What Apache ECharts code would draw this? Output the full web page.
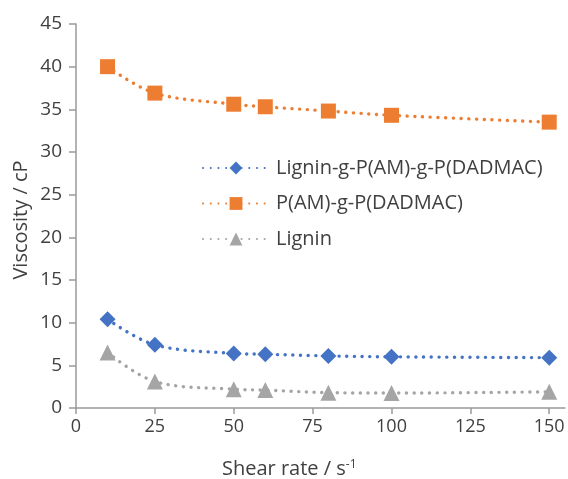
<!DOCTYPE html>
<html><head><meta charset="utf-8">
<script src="https://cdn.jsdelivr.net/npm/echarts@6/dist/echarts.min.js"></script>
<style>html,body{margin:0;padding:0;background:#fff}#c{width:568px;height:479px}</style>
</head><body><div id="c"></div>
<script>
const shearRate = [10, 25, 50, 60, 80, 100, 150];
const seriesNames = ['Lignin-g-P(AM)-g-P(DADMAC)', 'P(AM)-g-P(DADMAC)', 'Lignin'];
const ligninGraft = [10.4, 7.4, 6.4, 6.3, 6.1, 6.0, 5.9];
const pamGraft = [40.0, 36.9, 35.6, 35.3, 34.8, 34.3, 33.5];
const lignin = [6.5, 3.1, 2.2, 2.1, 1.8, 1.75, 1.9];
const xTicks = [0, 25, 50, 75, 100, 125, 150];

const colors = ['#4472C4', '#ED7D31', '#A5A5A5'];
const symbols = ['diamond', 'rect', 'triangle'];
const sizes = [16, 15, 16];
const vals = [ligninGraft, pamGraft, lignin];
const font = '"Open Sans", "Noto Sans", sans-serif';
const txt = '#404040';

const chart = echarts.init(document.getElementById('c'), null, {renderer: 'canvas'});
chart.setOption({
  animation: false,
  backgroundColor: '#fff',
  grid: {left: 76, right: 3, top: 24, bottom: 71, containLabel: false},
  xAxis: {
    type: 'value', min: 0, max: 155,
    axisLine: {show: true, lineStyle: {color: '#9a9a9a', width: 1.5}},
    axisTick: {show: true, length: 6, lineStyle: {color: '#9a9a9a', width: 1.5}, customValues: xTicks},
    axisLabel: {customValues: xTicks, color: txt, fontSize: 18, fontFamily: font, margin: 10},
    splitLine: {show: false}
  },
  yAxis: {
    type: 'value', min: 0, max: 45, interval: 5,
    axisLine: {show: true, lineStyle: {color: '#9a9a9a', width: 1.5}},
    axisTick: {show: true, length: 7, lineStyle: {color: '#9a9a9a', width: 1.5}},
    axisLabel: {color: txt, fontSize: 19, fontFamily: font, margin: 14},
    splitLine: {show: false}
  },
  legend: {
    orient: 'vertical', left: 197, top: 153, itemGap: 15.5,
    itemWidth: 66, itemHeight: 16,
    textStyle: {color: txt, fontSize: 20, fontFamily: font, padding: [0, 0, 0, 2]},
    data: seriesNames
  },
  graphic: [
    {type: 'text', x: 21, y: 220, rotation: Math.PI / 2, style: {text: 'Viscosity / cP', fill: txt, font: '20px ' + font, align: 'center', verticalAlign: 'middle'}},
    {type: 'text', x: 222, y: 469, style: {
      text: '{a|Shear rate / s}{b|-1}', verticalAlign: 'middle',
      rich: {a: {fill: txt, fontSize: 20, fontFamily: font}, b: {fill: txt, fontSize: 12, fontFamily: font, verticalAlign: 'top', padding: [0, 0, 9, 0]}}
    }}
  ],
  series: seriesNames.map((n, i) => ({
    name: n, type: 'line', smooth: 0.35,
    data: shearRate.map((x, j) => [x, vals[i][j]]),
    symbol: symbols[i], symbolSize: sizes[i],
    itemStyle: {color: colors[i]},
    lineStyle: {color: colors[i], width: 3.4, type: [0.1, 7.6], cap: 'round'}
  }))
});
</script></body></html>
